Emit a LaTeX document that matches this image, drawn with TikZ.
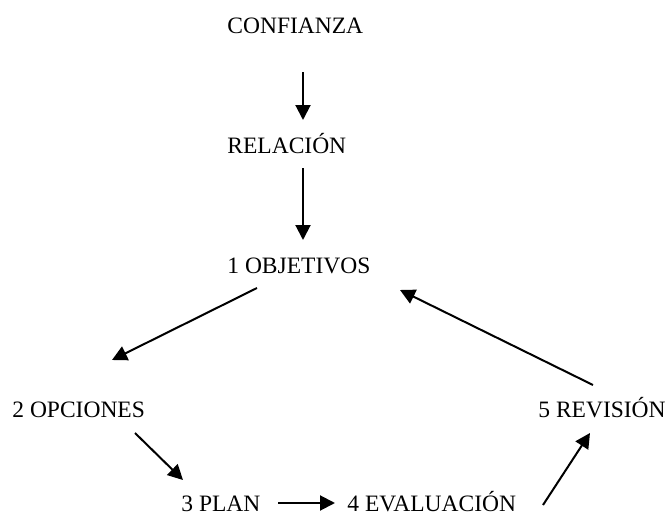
\documentclass[tikz,border=0pt]{standalone}
\usepackage{fontspec}
\setmainfont{Liberation Serif}
\usetikzlibrary{arrows.meta}

\begin{document}
\begin{tikzpicture}[x=0.5pt,y=-0.5pt,
    etapa/.style={anchor=base west,inner sep=0pt,font=\fontsize{11.75}{14}\selectfont},
    flecha/.style={line width=1pt,-{Triangle[length=7.5pt,width=7.5pt]}}]
    \useasboundingbox (0,0) rectangle (671,514);
    % textos
    \node[etapa] (conf) at (227,33) {CONFIANZA};
    \node[etapa] (rel) at (227,153) {RELACIÓN};
    \node[etapa] (obj) at (227,273) {1 OBJETIVOS};
    \node[etapa] (opc) at (12,417) {2 OPCIONES};
    \node[etapa] (plan) at (181,511) {3 PLAN};
    \node[etapa] (eval) at (347,511) {4 EVALUACIÓN};
    \node[etapa] (rev) at (538,417) {5 REVISIÓN};
    % flechas
    \draw[flecha] ([shift={(76,39)}]conf.base west) -- ([shift={(76,-33)}]rel.base west);
    \draw[flecha] ([shift={(76,15)}]rel.base west) -- ([shift={(76,-33)}]obj.base west);
    \draw[flecha] ([shift={(30,15)}]obj.base west) -- ([shift={(100,-57)}]opc.base west);
    \draw[flecha] ([shift={(123,16)}]opc.base west) -- ([shift={(2,-31)}]plan.base west);
    \draw[flecha] ([shift={(97,-8)}]plan.base west) -- ([shift={(-12,-8)}]eval.base west);
    \draw[flecha] ([shift={(196,-6)}]eval.base west) -- ([shift={(52,16)}]rev.base west);
    \draw[flecha] ([shift={(55,-32)}]rev.base west) -- ([shift={(173,17)}]obj.base west);
\end{tikzpicture}
\end{document}
